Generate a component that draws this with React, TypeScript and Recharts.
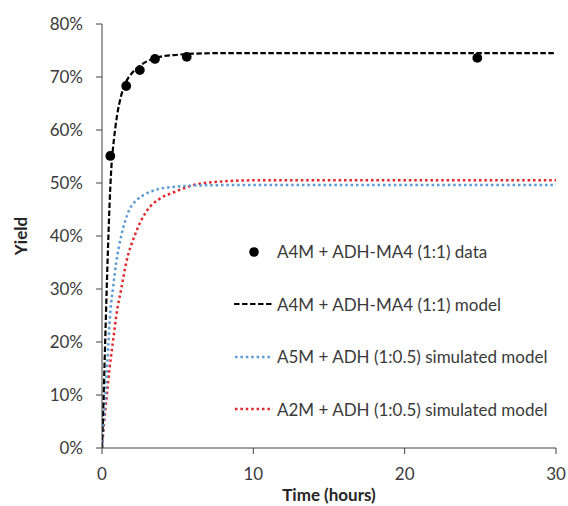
import React from "react";
import {
  ComposedChart,
  Line,
  Scatter,
  XAxis,
  YAxis,
  ZAxis,
  Legend,
} from "recharts";

// ---- data (time in hours, yield in %) ----
const dataTimes = [0.55, 1.6, 2.5, 3.5, 5.6, 24.8];
const dataYields = [55.1, 68.3, 71.3, 73.4, 73.8, 73.6];

const modelTimes = [0, 0.1, 0.2, 0.3, 0.4, 0.5, 0.6, 0.8, 1.0, 1.25, 1.5, 2, 2.5, 3, 3.5, 4, 5, 6, 8, 10, 20, 30];
const modelYields = [0, 9, 19, 29, 38, 46, 52, 58.5, 62.8, 66.3, 68.5, 70.8, 72.1, 73, 73.5, 73.9, 74.2, 74.4, 74.5, 74.5, 74.5, 74.5];

const a5mTimes = [0, 0.1, 0.23, 0.43, 0.56, 0.72, 0.94, 1.27, 1.8, 2.3, 2.8, 3.8, 4.8, 6, 8, 10, 20, 30];
const a5mYields = [0, 4.5, 10, 20, 26, 30, 35, 40, 44.9, 46.8, 47.8, 48.9, 49.3, 49.5, 49.6, 49.6, 49.6, 49.6];

const a2mTimes = [0, 0.15, 0.32, 0.5, 0.72, 1.0, 1.27, 1.6, 2.15, 3.0, 3.8, 4.8, 6.3, 8, 10, 20, 30];
const a2mYields = [0, 5, 10, 15, 20, 26, 30, 35, 40, 44.9, 47, 48.3, 49.8, 50.3, 50.5, 50.5, 50.5];

const xTicks = [0, 10, 20, 30];
const yTicks = [0, 10, 20, 30, 40, 50, 60, 70, 80];

const seriesNames = [
  "A4M + ADH-MA4 (1:1) data",
  "A4M + ADH-MA4 (1:1) model",
  "A5M + ADH (1:0.5) simulated model",
  "A2M + ADH (1:0.5) simulated model",
];

const toRows = (ts: number[], ys: number[]) => ts.map((t, i) => ({ t, y: ys[i] }));

const dataRows = toRows(dataTimes, dataYields);
const modelRows = toRows(modelTimes, modelYields);
const a5mRows = toRows(a5mTimes, a5mYields);
const a2mRows = toRows(a2mTimes, a2mYields);

const FONT = "Lato, 'Open Sans', sans-serif";
const TEXT = "#3a3a3a";
const BLUE = "#5B9BD5";
const RED = "#E3262B";

const LegendContent = () => {
  const icon = (i: number) => {
    if (i === 0)
      return <circle cx={20} cy={6} r={4.8} fill="#000" />;
    if (i === 1)
      return <line x1={0} y1={6} x2={40} y2={6} stroke="#000" strokeWidth={2.2} strokeDasharray="5.5 2.5" />;
    return (
      <line x1={1} y1={6} x2={39} y2={6} stroke={i === 2 ? BLUE : RED} strokeWidth={2.5} strokeDasharray="2.5 2.9" />
    );
  };
  return (
    <div style={{ fontFamily: FONT, fontSize: 17, color: TEXT }}>
      {seriesNames.map((name, i) => (
        <div key={name} style={{ height: 52.5, display: "flex", alignItems: "center", whiteSpace: "nowrap" }}>
          <svg width={40} height={12} style={{ display: "block" }}>{icon(i)}</svg>
          <span style={{ marginLeft: 3 }}>{name}</span>
        </div>
      ))}
    </div>
  );
};

const YLabel = (props: any) => {
  const vb = props.viewBox || { x: 0, y: 0, width: 0, height: 0 };
  const cx = vb.x + 20;
  const cy = vb.y + vb.height / 2;
  return (
    <text
      x={cx}
      y={cy}
      transform={`rotate(-90 ${cx} ${cy})`}
      textAnchor="middle"
      dominantBaseline="central"
      fontFamily={FONT}
      fontSize={17}
      fontWeight="bold"
      fill="#262626"
    >
      Yield
    </text>
  );
};

export default function App() {
  return (
    <div style={{ position: "absolute", left: 0, top: 0 }}>
      <ComposedChart
        width={568}
        height={506}
        margin={{ top: 24, right: 12, bottom: 0, left: 0 }}
      >
        <XAxis
          dataKey="t"
          type="number"
          domain={[0, 30]}
          ticks={xTicks}
          allowDataOverflow
          height={58}
          tickSize={6}
          tickMargin={14}
          stroke="#404040"
          tick={{ fill: TEXT, fontFamily: FONT, fontSize: 17 }}
          label={{
            value: "Time (hours)",
            position: "insideBottom",
            offset: 5,
            style: { fontFamily: FONT, fontSize: 17, fontWeight: "bold", fill: "#262626" },
          }}
        />
        <YAxis
          type="number"
          domain={[0, 80]}
          ticks={yTicks}
          allowDataOverflow
          width={102}
          tickSize={6}
          tickMargin={13}
          stroke="#404040"
          tickFormatter={(v: number) => `${v}%`}
          tick={{ fill: TEXT, fontFamily: FONT, fontSize: 17 }}
          label={<YLabel />}
        />
        <ZAxis range={[75, 75]} />
        <Legend
          layout="vertical"
          align="center"
          verticalAlign="middle"
          content={<LegendContent />}
          wrapperStyle={{ left: 234, top: 225.5, width: 330 }}
        />
        <Line
          data={a2mRows}
          dataKey="y"
          type="monotone"
          stroke={RED}
          strokeWidth={2.5}
          strokeDasharray="2.5 2.9"
          dot={false}
          activeDot={false}
          isAnimationActive={false}
          name={seriesNames[3]}
        />
        <Line
          data={a5mRows}
          dataKey="y"
          type="monotone"
          stroke={BLUE}
          strokeWidth={2.5}
          strokeDasharray="2.5 2.9"
          dot={false}
          activeDot={false}
          isAnimationActive={false}
          name={seriesNames[2]}
        />
        <Line
          data={modelRows}
          dataKey="y"
          type="monotone"
          stroke="#000"
          strokeWidth={2.2}
          strokeDasharray="5.5 2.5"
          dot={false}
          activeDot={false}
          isAnimationActive={false}
          name={seriesNames[1]}
        />
        <Scatter
          data={dataRows}
          dataKey="y"
          fill="#000"
          isAnimationActive={false}
          name={seriesNames[0]}
        />
      </ComposedChart>
    </div>
  );
}
